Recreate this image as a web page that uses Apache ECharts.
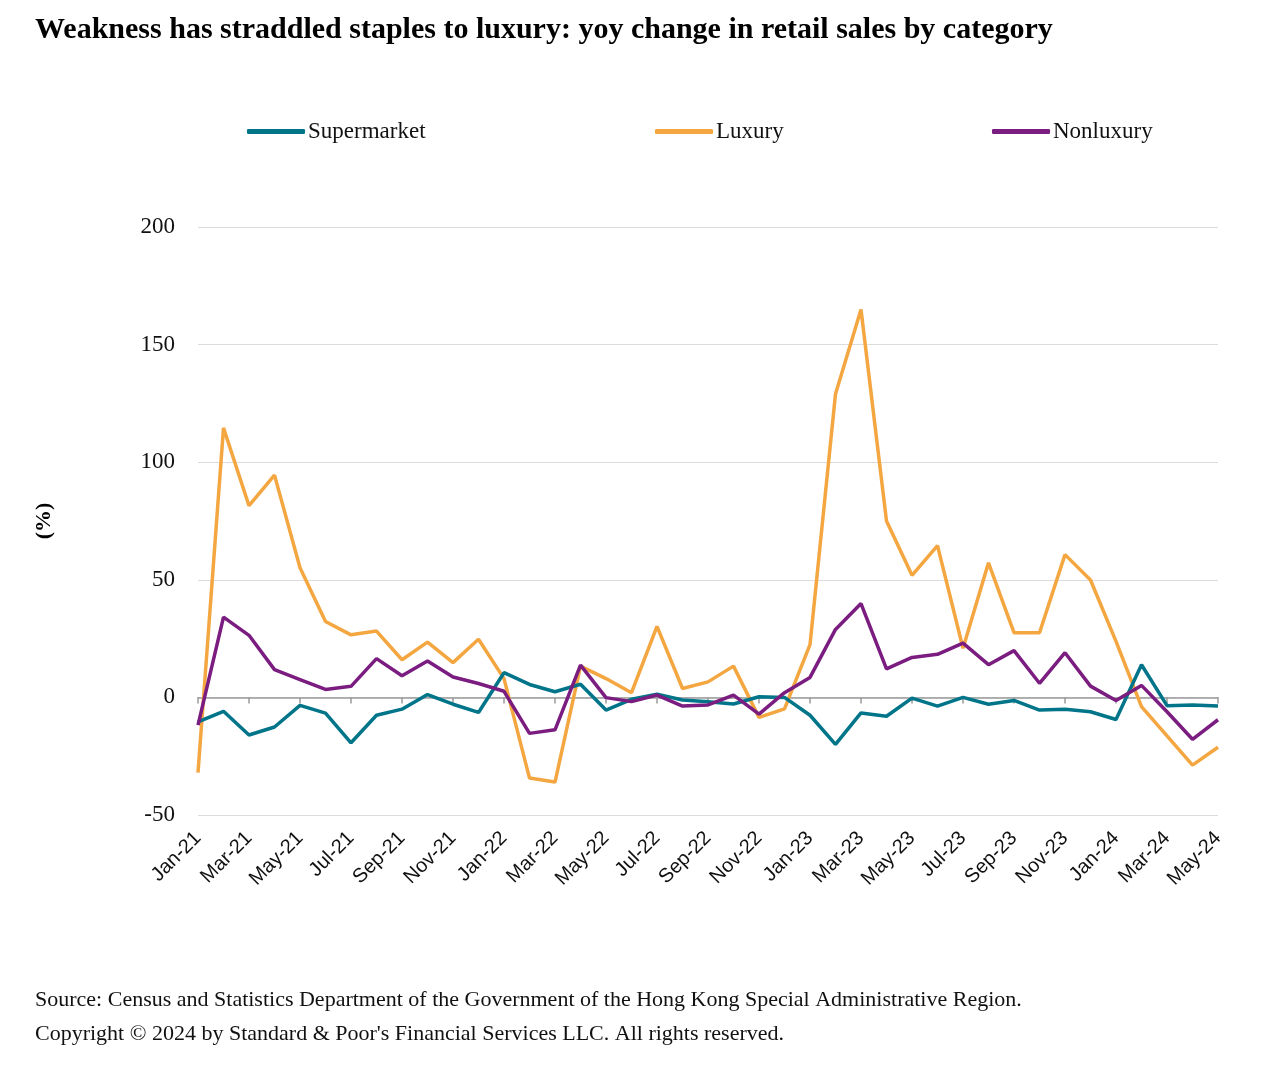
<!DOCTYPE html>
<html>
<head>
<meta charset="utf-8">
<script src="https://cdn.jsdelivr.net/npm/echarts@6/dist/echarts.min.js"></script>
<style>
html,body{margin:0;padding:0;background:#fff;}
#chart{width:1280px;height:1080px;}
</style>
</head>
<body>
<div id="chart"></div>
<script>
const categories = ['Jan-21','Feb-21','Mar-21','Apr-21','May-21','Jun-21','Jul-21','Aug-21','Sep-21','Oct-21','Nov-21','Dec-21',
'Jan-22','Feb-22','Mar-22','Apr-22','May-22','Jun-22','Jul-22','Aug-22','Sep-22','Oct-22','Nov-22','Dec-22',
'Jan-23','Feb-23','Mar-23','Apr-23','May-23','Jun-23','Jul-23','Aug-23','Sep-23','Oct-23','Nov-23','Dec-23',
'Jan-24','Feb-24','Mar-24','Apr-24','May-24'];

const supermarket = [-10.4,-5.9,-16.0,-12.6,-3.4,-6.7,-19.3,-7.6,-5.0,1.2,-2.9,-6.4,
10.5,5.5,2.4,5.6,-5.4,-0.8,1.4,-1.1,-1.8,-2.8,0.3,0,
-7.6,-20.0,-6.6,-8.0,-0.3,-3.7,0,-2.9,-1.3,-5.4,-5.0,-6.1,
-9.4,13.9,-3.5,-3.2,-3.7];

const luxury = [-32,114.6,81.5,94.5,55.1,32.3,26.6,28.2,16.0,23.5,14.8,24.7,
8,-34.3,-36,13.3,8,2,30.2,3.8,6.6,13.3,-8.5,-4.9,
22.4,129,164.9,75,51.9,64.5,20.9,57.2,27.5,27.5,60.7,49.9,
23.8,-3.9,-16.4,-28.8,-21.2];

const nonluxury = [-11.8,34.1,26.4,11.8,7.6,3.4,4.7,16.5,9.2,15.5,8.7,5.9,
2.6,-15.3,-13.8,13.7,-0.1,-1.8,1.0,-3.7,-3.2,1.0,-7.1,2.0,
8.5,28.9,39.9,12.1,17.0,18.3,23.1,13.9,19.9,6.0,19.0,4.8,
-1.3,5.1,-6.1,-17.8,-9.5];

const yTicks = {min:-50, max:200, interval:50};

const seriesNames = ['Supermarket','Luxury','Nonluxury'];
const colors = ['#00758a','#f4a641','#7b1d80'];

const serif = '"Liberation Serif","Times New Roman",serif';
const sans = '"Liberation Sans",Arial,sans-serif';

const chart = echarts.init(document.getElementById('chart'));

const legendBase = {
  top: 115,
  icon: 'roundRect',
  itemWidth: 58,
  itemHeight: 5,
  itemGap: 0,
  textStyle: {fontFamily: serif, fontSize: 23, color: '#111', padding:[0,0,0,-2]},
  selectedMode: false
};

chart.setOption({
  animation: false,
  backgroundColor: '#fff',
  color: colors,
  title: {
    text: 'Weakness has straddled staples to luxury: yoy change in retail sales by category',
    left: 30,
    top: 10,
    textStyle: {fontFamily: serif, fontWeight: 'bold', fontSize: 30, color: '#000'}
  },
  legend: [
    Object.assign({}, legendBase, {left: 242, data: [seriesNames[0]]}),
    Object.assign({}, legendBase, {left: 650, data: [seriesNames[1]]}),
    Object.assign({}, legendBase, {left: 987, data: [seriesNames[2]]})
  ],
  grid: {left: 198, right: 62, top: 227, bottom: 265, containLabel: false},
  xAxis: [
    {
      type: 'category',
      data: categories,
      boundaryGap: false,
      position: 'bottom',
      axisLine: {show: false, onZero: false},
      axisTick: {show: false},
      axisLabel: {
        interval: 1,
        rotate: 45,
        margin: 20,
        fontFamily: sans,
        fontSize: 20,
        color: '#111'
      },
      splitLine: {show: false}
    },
    {
      type: 'category',
      data: categories,
      boundaryGap: false,
      position: 'bottom',
      axisLine: {show: true, onZero: true, lineStyle: {color: '#9a9a9a', width: 1.5}},
      axisTick: {show: true, interval: 1, inside: false, length: 6, lineStyle: {color: '#9a9a9a', width: 1.5}},
      axisLabel: {show: false},
      splitLine: {show: false}
    }
  ],
  yAxis: {
    type: 'value',
    min: yTicks.min,
    max: yTicks.max,
    interval: yTicks.interval,
    name: '(%)',
    nameLocation: 'middle',
    nameRotate: 90,
    nameGap: 143,
    nameTextStyle: {fontFamily: serif, fontWeight: 'bold', fontSize: 22, color: '#000'},
    axisLine: {show: false},
    axisTick: {show: false},
    axisLabel: {margin: 23, fontFamily: serif, fontSize: 23, color: '#111'},
    splitLine: {show: true, lineStyle: {color: '#dcdcdc', width: 1.2}}
  },
  series: [
    {name: seriesNames[0], type: 'line', data: supermarket, symbol: 'none', lineStyle: {width: 3.5, color: colors[0]}, z: 3},
    {name: seriesNames[1], type: 'line', data: luxury, symbol: 'none', lineStyle: {width: 3.5, color: colors[1]}, z: 2},
    {name: seriesNames[2], type: 'line', data: nonluxury, symbol: 'none', lineStyle: {width: 3.5, color: colors[2]}, z: 4}
  ],
  graphic: [
    {type: 'text', left: 35, top: 989, style: {text: 'Source: Census and Statistics Department of the Government of the Hong Kong Special Administrative Region.', fontFamily: serif, fontSize: 22, fill: '#111'}},
    {type: 'text', left: 35, top: 1023, style: {text: 'Copyright \u00A9 2024 by Standard & Poor\'s Financial Services LLC. All rights reserved.', fontFamily: serif, fontSize: 22, fill: '#111'}}
  ]
});
</script>
</body>
</html>
